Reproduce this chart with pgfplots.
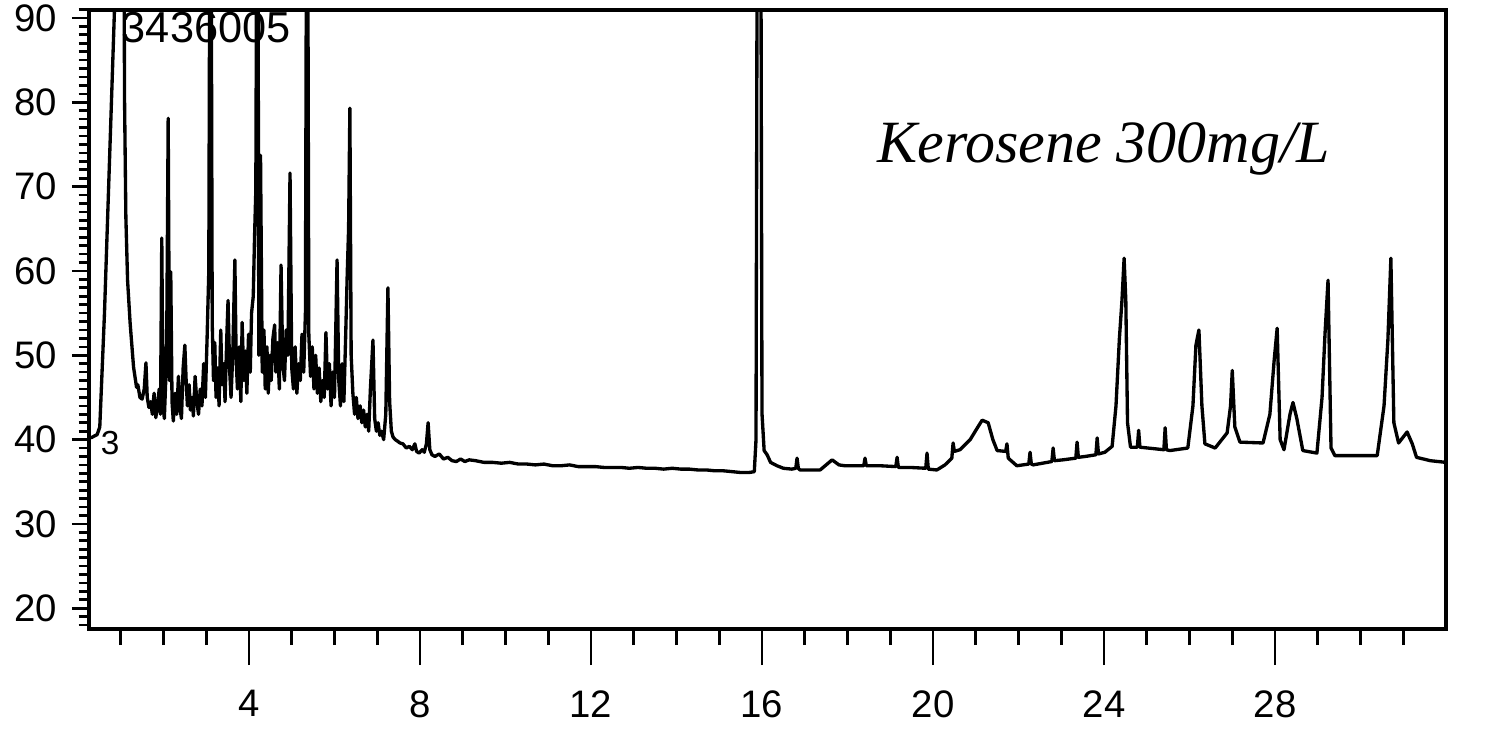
\documentclass[border=0pt]{standalone}
\usepackage{fontspec}
\setmainfont{Liberation Sans}
\newfontfamily\handfont{Liberation Serif}
\usepackage{pgfplots}
\pgfplotsset{compat=1.18}
\usepackage{pgfplotstable}

\pgfplotstableread{
x y
0.30 40.2
0.45 40.6
0.51 41.5
0.62 55
0.75 75
0.88 95
0.95 130
1.05 130
1.09 80
1.12 66.4
1.16 58.9
1.22 53.8
1.30 48.6
1.37 46.2
1.40 46.5
1.45 45.0
1.50 44.8
1.55 46.0
1.59 49.1
1.62 45.0
1.66 43.8
1.70 44.5
1.74 43.0
1.78 45.5
1.82 42.6
1.86 44.0
1.90 46.0
1.93 43.0
1.96 63.9
1.99 44.0
2.02 42.5
2.06 48.0
2.08 55.0
2.11 78.1
2.14 47.0
2.17 59.9
2.20 44.5
2.23 42.2
2.27 45.5
2.31 43.0
2.35 47.5
2.38 44.0
2.42 42.5
2.46 48.5
2.50 51.2
2.53 47.0
2.56 44.0
2.60 46.5
2.63 43.5
2.67 45.0
2.70 42.8
2.74 47.5
2.78 44.5
2.82 43.0
2.86 46.0
2.90 44.0
2.94 49.0
2.98 45.0
3.02 52.0
3.06 60.0
3.10 130
3.14 53.9
3.17 47.0
3.20 51.5
3.23 45.0
3.27 48.5
3.30 44.0
3.34 53.0
3.37 46.5
3.41 49.0
3.44 44.5
3.48 52.0
3.51 56.5
3.55 48.0
3.58 45.0
3.62 50.0
3.67 61.3
3.70 49.5
3.73 46.0
3.77 51.0
3.81 44.5
3.84 53.9
3.88 47.0
3.92 50.5
3.95 45.5
3.99 52.5
4.03 48.0
4.06 55.0
4.10 57.0
4.13 64.0
4.16 69.6
4.20 130
4.23 50.0
4.27 73.7
4.31 48.0
4.35 53.0
4.38 46.0
4.42 51.0
4.45 45.5
4.49 50.0
4.52 47.0
4.56 52.0
4.60 53.6
4.63 48.0
4.67 51.5
4.71 46.0
4.75 60.7
4.79 49.0
4.83 47.0
4.87 53.0
4.91 50.0
4.96 71.6
5.00 48.5
5.04 46.0
5.08 51.0
5.12 45.5
5.16 49.0
5.20 47.0
5.24 52.5
5.28 48.0
5.32 55.0
5.36 130
5.40 52.4
5.44 47.5
5.48 51.0
5.52 46.0
5.56 50.0
5.60 45.5
5.64 48.5
5.68 44.5
5.72 47.0
5.76 45.0
5.80 52.7
5.84 46.0
5.88 49.0
5.92 44.0
5.96 48.0
6.00 45.0
6.03 53.0
6.06 61.3
6.10 47.0
6.14 44.0
6.18 49.0
6.22 44.5
6.26 52.0
6.30 60.0
6.33 65.0
6.36 79.3
6.39 50.0
6.43 45.5
6.47 43.0
6.51 45.0
6.55 42.5
6.60 44.0
6.64 42.0
6.68 43.5
6.72 41.5
6.76 43.0
6.80 41.0
6.84 46.0
6.90 51.8
6.94 42.5
6.98 41.0
7.02 42.0
7.06 40.5
7.10 41.0
7.15 40.0
7.20 43.0
7.25 58.0
7.29 44.5
7.33 41.0
7.37 40.3
7.42 40.0
7.48 39.8
7.53 39.6
7.60 39.5
7.68 39.0
7.75 39.2
7.82 38.8
7.88 39.5
7.92 38.6
7.98 38.4
8.05 38.8
8.10 38.5
8.15 39.5
8.19 42.0
8.23 38.8
8.28 38.2
8.35 38.0
8.45 38.3
8.55 37.7
8.65 37.9
8.75 37.5
8.85 37.4
8.95 37.7
9.05 37.4
9.15 37.6
9.30 37.5
9.50 37.3
9.70 37.3
9.90 37.2
10.1 37.3
10.3 37.1
10.5 37.1
10.7 37.0
10.9 37.1
11.1 36.9
11.3 36.9
11.5 37.0
11.7 36.8
11.9 36.8
12.1 36.8
12.3 36.7
12.5 36.7
12.7 36.7
12.9 36.6
13.1 36.7
13.3 36.6
13.5 36.6
13.7 36.5
13.9 36.6
14.1 36.5
14.3 36.5
14.5 36.4
14.7 36.4
14.9 36.3
15.1 36.3
15.3 36.2
15.5 36.1
15.7 36.1
15.82 36.2
15.86 40.0
15.90 130
15.96 130
16.00 43.1
16.05 38.7
16.12 38.2
16.20 37.3
16.35 36.9
16.50 36.6
16.70 36.5
16.79 36.6
16.82 37.8
16.85 36.6
16.89 36.4
17.36 36.4
17.50 37.0
17.64 37.6
17.80 37.0
17.94 36.9
18.38 36.9
18.41 37.8
18.44 36.9
18.76 36.9
19.13 36.8
19.16 37.9
19.19 36.7
19.46 36.7
19.83 36.6
19.86 38.4
19.89 36.5
20.09 36.4
20.28 37.0
20.44 37.8
20.47 39.6
20.50 38.6
20.63 38.8
20.87 40.0
21.05 41.5
21.15 42.3
21.29 42.0
21.40 40.0
21.50 38.7
21.70 38.6
21.73 39.5
21.76 37.8
21.96 36.9
22.24 37.1
22.27 38.5
22.30 37.1
22.34 37.0
22.78 37.4
22.81 39.0
22.84 37.5
23.04 37.6
23.34 37.8
23.37 39.7
23.40 37.9
23.56 38.0
23.81 38.2
23.84 40.2
23.87 38.3
24.02 38.5
24.19 39.2
24.28 44.0
24.36 52.0
24.42 56.5
24.47 61.5
24.51 56.5
24.55 42.0
24.62 39.1
24.78 39.1
24.81 41.1
24.84 39.1
25.40 38.8
25.43 41.4
25.46 38.8
25.54 38.7
25.96 39.0
26.08 44.0
26.15 51.2
26.22 53.0
26.29 44.0
26.36 39.5
26.60 39.0
26.88 40.8
26.96 44.0
27.00 48.2
27.06 41.5
27.18 39.7
27.72 39.6
27.88 43.0
27.98 49.4
28.05 53.2
28.12 40.0
28.21 38.8
28.35 43.0
28.42 44.4
28.51 42.5
28.65 38.7
28.98 38.4
29.10 45.0
29.17 52.6
29.24 58.9
29.31 39.0
29.40 38.1
30.39 38.1
30.55 44.0
30.64 51.8
30.71 61.5
30.78 42.0
30.89 39.6
31.09 40.9
31.21 39.5
31.31 37.9
31.63 37.5
32.00 37.3
}\trace

\begin{document}
\begin{tikzpicture}
\begin{axis}[
  scale only axis,
  width=407.2pt, height=185.7pt,
  xmin=0.25, xmax=32, ymin=17.6, ymax=91,
  axis line style={line width=1.2pt},
  tick pos=left,
  tick align=outside,
  major tick length=5pt,
  minor tick length=3pt,
  tick style={line width=0.8pt, black},
  xtick={1,2,...,31},
  xticklabels={},
  extra x ticks={4,8,...,28},
  extra x tick labels={4,8,12,16,20,24,28},
  extra tick style={major tick length=11pt},
  ytick={20,30,...,90},
  minor ytick={18,19,...,91},
  /pgf/number format/assume math mode=true,
  ticklabel style={font=\fontsize{11.5}{11.5}\selectfont},
  yticklabel style={xshift=-1pt},
  xticklabel style={yshift=-4pt},
]
\addplot[black, line width=1pt, line join=round] table {\trace};
\node[anchor=west, font=\fontsize{13}{13}\selectfont] at (axis cs:0.75,88.8) {3436005};
\node[font=\fontsize{10}{10}\selectfont] at (axis cs:0.75,39.6) {3};
\node[font=\handfont\itshape\fontsize{18}{18}\selectfont] at (axis cs:24,74.5) {Kerosene 300mg/L};
\end{axis}
\pgfresetboundingbox
\path[use as bounding box] ([shift={(-26.6pt,-36pt)}]current axis.south west) rectangle ([shift={(14.4pt,2.85pt)}]current axis.north east);
\end{tikzpicture}
\end{document}
